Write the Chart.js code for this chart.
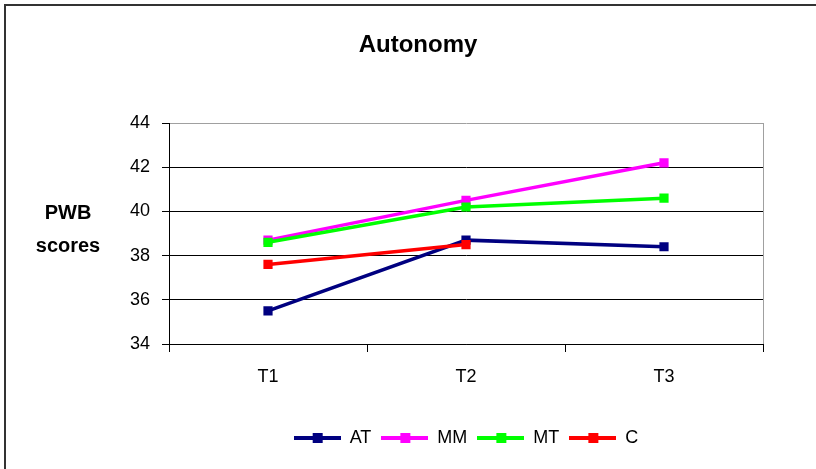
<!DOCTYPE html>
<html>
<head>
<meta charset="utf-8">
<script src="https://cdn.jsdelivr.net/npm/chart.js@4"></script>
<style>
  html, body { margin: 0; padding: 0; background: #fff; }
  #wrap { width: 816px; height: 469px; }
</style>
</head>
<body>
<div id="wrap"><canvas id="chart" width="816" height="469"></canvas></div>
<script>
const labels = ['T1', 'T2', 'T3']
const atScores = [35.5, 38.7, 38.4]
const mmScores = [38.7, 40.5, 42.2]
const mtScores = [38.6, 40.2, 40.6]
const cScores = [37.6, 38.5]
const yTitle = ['PWB', 'scores']

const FONT = "'Liberation Sans', Arial, sans-serif"
Chart.defaults.font.family = FONT
Chart.defaults.color = '#000'

// little "line with square" swatch for the legend
function legendSwatch(color) {
  const c = document.createElement('canvas')
  c.width = 47
  c.height = 10
  const ctx = c.getContext('2d')
  ctx.fillStyle = color
  ctx.fillRect(0, 3, 47, 4)
  ctx.fillRect(19, 0, 10, 10)
  return c
}

function series(label, data, color, order) {
  return {
    label,
    data,
    order,
    borderColor: color,
    backgroundColor: color,
    borderWidth: 3.5,
    pointStyle: 'rect',
    pointRadius: 6.5,
    pointHoverRadius: 6.5,
    pointBorderWidth: 0,
    tension: 0,
    legendSwatch: legendSwatch(color)
  }
}

const decorations = {
  id: 'decorations',
  afterDraw(chart) {
    const { ctx, chartArea } = chart
    ctx.save()
    // outer frame (top and left edges only)
    ctx.strokeStyle = '#333'
    ctx.lineWidth = 2
    ctx.beginPath()
    ctx.moveTo(5, 469)
    ctx.lineTo(5, 5)
    ctx.lineTo(816, 5)
    ctx.stroke()
    // right edge of the plot area
    ctx.strokeStyle = '#a0a0a0'
    ctx.lineWidth = 1
    ctx.beginPath()
    ctx.moveTo(Math.round(chartArea.right) + 0.5, chartArea.top)
    ctx.lineTo(Math.round(chartArea.right) + 0.5, chartArea.bottom)
    ctx.stroke()
    // horizontal y-axis title
    ctx.fillStyle = '#000'
    ctx.font = 'bold 20px ' + FONT
    ctx.textAlign = 'center'
    ctx.textBaseline = 'middle'
    ctx.fillText(yTitle[0], 68, 213)
    ctx.fillText(yTitle[1], 68, 246)
    ctx.restore()
  }
}

new Chart(document.getElementById('chart'), {
  type: 'line',
  data: {
    labels,
    datasets: [
      series('AT', atScores, '#000080', 4),
      series('MM', mmScores, '#ff00ff', 3),
      series('MT', mtScores, '#00ff00', 2),
      series('C', cScores, '#ff0000', 1)
    ]
  },
  options: {
    responsive: false,
    animation: false,
    layout: { padding: { left: 73, right: 53, top: 0, bottom: 12 } },
    plugins: {
      title: {
        display: true,
        text: 'Autonomy',
        color: '#000',
        font: { size: 24, weight: 'bold' },
        padding: { top: 31, bottom: 63.2 }
      },
      legend: {
        position: 'bottom',
        fullSize: false,
        labels: {
          usePointStyle: true,
          pointStyleWidth: 47,
          padding: 10,
          font: { size: 18 },
          color: '#000',
          generateLabels(chart) {
            return chart.data.datasets.map((ds, i) => ({
              text: ds.label,
              pointStyle: ds.legendSwatch,
              fillStyle: ds.borderColor,
              strokeStyle: ds.borderColor,
              lineWidth: 0,
              hidden: false,
              datasetIndex: i
            }))
          }
        }
      },
      tooltip: { enabled: false }
    },
    scales: {
      x: {
        offset: true,
        afterFit(scale) { scale.height = 75 },
        grid: {
          offset: true,
          drawOnChartArea: false,
          tickLength: 8,
          color: '#000'
        },
        border: { display: true, color: '#000' },
        ticks: { padding: 14, font: { size: 18 }, color: '#000' }
      },
      y: {
        min: 34,
        max: 44,
        afterFit(scale) { scale.width = 96 },
        grid: {
          color: ctx => (ctx.tick && ctx.tick.value === 44 ? '#a0a0a0' : '#000'),
          tickColor: '#000',
          tickLength: 7
        },
        border: { display: true, color: '#000' },
        ticks: { stepSize: 2, padding: 12, font: { size: 18 }, color: '#000' }
      }
    }
  },
  plugins: [decorations]
})
</script>
</body>
</html>
